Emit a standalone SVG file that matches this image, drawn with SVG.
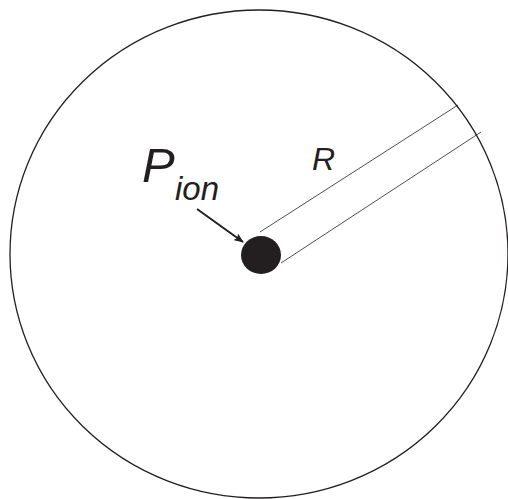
<svg xmlns="http://www.w3.org/2000/svg" width="508" height="499" viewBox="0 0 508 499">
<style>
.lbl{font-family:"Liberation Sans",Arial,sans-serif;font-style:italic;fill:#231f20}
.thin{stroke:#231f20;stroke-width:0.8;fill:none}
</style>
<defs>
<marker id="ah" markerWidth="10" markerHeight="8" refX="9" refY="4" orient="auto" markerUnits="userSpaceOnUse" viewBox="0 0 10 8">
<path d="M0,0 L10,4 L0,8 L2,4 Z" fill="#231f20"/>
</marker>
</defs>
<rect width="508" height="499" fill="#fff"/>
<g id="boundary">
<ellipse cx="259" cy="254" rx="249" ry="244" fill="none" stroke="#231f20" stroke-width="1.3"/>
</g>
<g id="ion">
<ellipse cx="261" cy="255" rx="20" ry="19" fill="#231f20"/>
</g>
<g id="connectors">
<line class="thin" x1="260" y1="232" x2="458" y2="105"/>
<line class="thin" x1="281" y1="263" x2="481" y2="132"/>
<line x1="197" y1="209" x2="243" y2="242" stroke="#231f20" stroke-width="2" marker-end="url(#ah)"/>
</g>
<g id="labels">
<text class="lbl" x="142" y="182" font-size="49">P</text>
<text class="lbl" x="175" y="200" font-size="33">ion</text>
<text class="lbl" x="312" y="170" font-size="32">R</text>
</g>
</svg>
